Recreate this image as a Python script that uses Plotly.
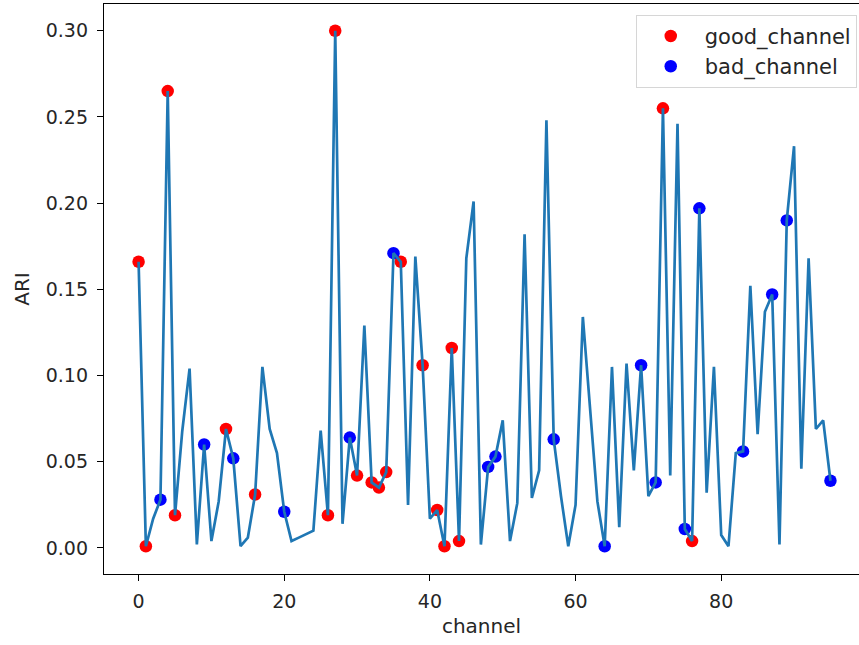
import plotly.graph_objects as go

# ARI score per channel (0..95)
channels = list(range(96))
ari = [
    0.166, 0.001, 0.017, 0.028, 0.265, 0.019, 0.068, 0.104, 0.002, 0.060,
    0.004, 0.027, 0.069, 0.052, 0.001, 0.006, 0.031, 0.105, 0.069, 0.055,
    0.021, 0.004, 0.006, 0.008, 0.010, 0.068, 0.019, 0.300, 0.014, 0.064,
    0.042, 0.129, 0.038, 0.035, 0.044, 0.171, 0.166, 0.025, 0.169, 0.106,
    0.017, 0.022, 0.001, 0.116, 0.004, 0.168, 0.201, 0.002, 0.047, 0.053,
    0.074, 0.004, 0.026, 0.182, 0.029, 0.045, 0.248, 0.063, 0.030, 0.001,
    0.025, 0.134, 0.080, 0.027, 0.001, 0.105, 0.012, 0.107, 0.045, 0.106,
    0.030, 0.038, 0.255, 0.042, 0.246, 0.011, 0.004, 0.197, 0.032, 0.105,
    0.0075, 0.001, 0.055, 0.056, 0.152, 0.066, 0.137, 0.147, 0.002, 0.190,
    0.233, 0.046, 0.168, 0.069, 0.074, 0.039,
]

good_channels = [0, 1, 4, 5, 12, 16, 26, 27, 30, 32, 33, 34, 36, 39, 41, 42, 43, 44, 72, 76]
bad_channels = [3, 9, 13, 20, 29, 35, 48, 49, 57, 64, 69, 71, 75, 77, 83, 87, 89, 95]

FONT = "DejaVu Sans"
TEXT = "#262626"

fig = go.Figure()

# markers first so the line is drawn on top of them
fig.add_trace(go.Scatter(
    x=good_channels, y=[ari[c] for c in good_channels],
    mode="markers", name="good_channel",
    marker=dict(color="red", size=12.5, line=dict(width=0)),
))
fig.add_trace(go.Scatter(
    x=bad_channels, y=[ari[c] for c in bad_channels],
    mode="markers", name="bad_channel",
    marker=dict(color="blue", size=12.5, line=dict(width=0)),
))
fig.add_trace(go.Scatter(
    x=channels, y=ari, mode="lines", showlegend=False,
    line=dict(color="#1f77b4", width=2.7),
))

fig.update_layout(
    width=859, height=645,
    margin=dict(l=104, r=0, t=4, b=71),
    paper_bgcolor="white", plot_bgcolor="white",
    font=dict(family=FONT, size=19, color=TEXT),
    showlegend=True,
    legend=dict(
        x=0.997, y=0.981, xanchor="right", yanchor="top",
        bgcolor="white", bordercolor="#d6d6d6", borderwidth=1,
        font=dict(family=FONT, size=21, color=TEXT),
        itemwidth=58, tracegroupgap=0,
    ),
    xaxis=dict(
        range=[-4.75, 98.92], tick0=0, dtick=20,
        showgrid=False, zeroline=False,
        showline=True, linecolor="black", linewidth=1.3, mirror=True,
        ticks="outside", ticklen=6, tickwidth=1.3, tickcolor="black",
        ticklabelstandoff=4,
        title=dict(text="channel", font=dict(family=FONT, size=20, color=TEXT), standoff=8),
    ),
    yaxis=dict(
        range=[-0.0151, 0.3155], tick0=0, dtick=0.05, tickformat=".2f",
        showgrid=False, zeroline=False,
        showline=True, linecolor="black", linewidth=1.3, mirror=False,
        ticks="outside", ticklen=6, tickwidth=1.3, tickcolor="black",
        ticklabelstandoff=5,
        title=dict(text="ARI", font=dict(family=FONT, size=20, color=TEXT), standoff=10),
    ),
)

fig.write_html("out.html")
